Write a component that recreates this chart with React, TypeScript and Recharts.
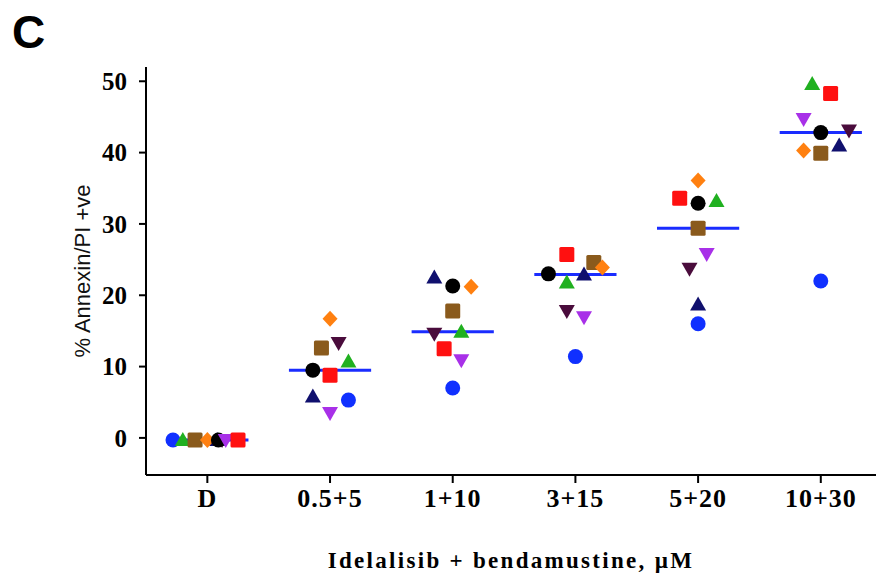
import { ReferenceLine, Scatter, ScatterChart, XAxis, YAxis } from "recharts";

const groups = ["D", "0.5+5", "1+10", "3+15", "5+20", "10+30"];
const yTicks = [0, 10, 20, 30, 40, 50];
// median line for each group
const medians = [-0.3, 9.5, 14.9, 22.9, 29.4, 42.8];

// one array per donor, values in group order; dx = horizontal jitter within a group
const blueCircle = [-0.3, 5.3, 7.0, 11.4, 16.0, 22.0];
const blueCircleDx = [-0.28, 0.15, 0, 0, 0, 0];
const blackCircle = [-0.3, 9.5, 21.3, 23.0, 32.9, 42.8];
const blackCircleDx = [0.09, -0.14, 0, -0.22, 0, 0];
const redSquare = [-0.3, 8.8, 12.5, 25.7, 33.6, 48.3];
const redSquareDx = [0.25, 0, -0.07, -0.07, -0.15, 0.08];
const brownSquare = [-0.3, 12.6, 17.8, 24.6, 29.4, 39.9];
const brownSquareDx = [-0.1, -0.07, 0, 0.15, 0, 0];
const orangeDiamond = [-0.3, 16.7, 21.2, 23.9, 36.1, 40.3];
const orangeDiamondDx = [0, 0, 0.15, 0.22, 0, -0.14];
const greenTriangle = [-0.3, 10.7, 14.9, 21.8, 33.2, 49.6];
const greenTriangleDx = [-0.2, 0.15, 0.07, -0.07, 0.15, -0.07];
const navyTriangle = [-0.3, 5.8, 22.5, 22.9, 18.7, 41.0];
const navyTriangleDx = [0.08, -0.14, -0.15, 0.07, 0, 0.15];
const maroonDown = [-0.3, 13.3, 14.6, 17.8, 23.7, 43.1];
const maroonDownDx = [0.12, 0.07, -0.15, -0.07, -0.07, 0.23];
const purpleDown = [-0.3, 3.5, 10.9, 16.9, 25.8, 44.7];
const purpleDownDx = [0.15, 0, 0.07, 0.07, 0.07, -0.14];

type Kind = "circle" | "square" | "diamond" | "up" | "down";

const series: { name: string; kind: Kind; color: string; values: number[]; dx: number[] }[] = [
  { name: "navy", kind: "up", color: "#10106e", values: navyTriangle, dx: navyTriangleDx },
  { name: "maroon", kind: "down", color: "#4a0c3c", values: maroonDown, dx: maroonDownDx },
  { name: "blue", kind: "circle", color: "#1030ff", values: blueCircle, dx: blueCircleDx },
  { name: "green", kind: "up", color: "#20b020", values: greenTriangle, dx: greenTriangleDx },
  { name: "brown", kind: "square", color: "#8a5a1c", values: brownSquare, dx: brownSquareDx },
  { name: "orange", kind: "diamond", color: "#ff8010", values: orangeDiamond, dx: orangeDiamondDx },
  { name: "black", kind: "circle", color: "#000000", values: blackCircle, dx: blackCircleDx },
  { name: "purple", kind: "down", color: "#a830e8", values: purpleDown, dx: purpleDownDx },
  { name: "red", kind: "square", color: "#ff1010", values: redSquare, dx: redSquareDx }
];

const toPoints = (values: number[], dx: number[]) =>
  values.map((v, i) => ({ x: i + dx[i], y: v }));

const marker = (kind: Kind, color: string) => (props: any) => {
  const { cx, cy } = props;
  if (cx == null || cy == null) return <g />;
  switch (kind) {
    case "circle":
      return <circle cx={cx} cy={cy} r={7.5} fill={color} />;
    case "square":
      return <rect x={cx - 7.5} y={cy - 7.5} width={15} height={15} rx={1.5} fill={color} />;
    case "diamond":
      return (
        <polygon
          points={`${cx},${cy - 8} ${cx + 7.5},${cy} ${cx},${cy + 8} ${cx - 7.5},${cy}`}
          fill={color}
        />
      );
    case "up":
      return (
        <polygon
          points={`${cx},${cy - 8} ${cx + 8},${cy + 6} ${cx - 8},${cy + 6}`}
          fill={color}
        />
      );
    default:
      return (
        <polygon
          points={`${cx - 8},${cy - 6} ${cx + 8},${cy - 6} ${cx},${cy + 8}`}
          fill={color}
        />
      );
  }
};

const serifBold = {
  fontFamily: "'Liberation Serif', 'Times New Roman', serif",
  fontWeight: 700,
  fill: "#000"
};

export default function App() {
  return (
    <div style={{ position: "absolute", left: 0, top: 0, width: 876, height: 581, background: "#fff" }}>
      <div
        style={{
          position: "absolute",
          left: 12,
          top: 9,
          fontFamily: "'Liberation Sans', Arial, sans-serif",
          fontWeight: 700,
          fontSize: 46,
          lineHeight: 1
        }}
      >
        C
      </div>
      <ScatterChart width={876} height={581} margin={{ top: 67, right: 0, bottom: 0, left: 0 }}>
        <XAxis
          type="number"
          dataKey="x"
          domain={[-0.5, 5.45]}
          ticks={[0, 1, 2, 3, 4, 5]}
          interval={0}
          allowDataOverflow
          tickFormatter={(v: number) => groups[v] ?? ""}
          height={106}
          stroke="#000"
          strokeWidth={2}
          tickSize={8}
          tickMargin={6}
          tick={{ ...serifBold, fontSize: 26, letterSpacing: 1 }}
          label={{
            value: "Idelalisib + bendamustine, µM",
            position: "insideBottom",
            offset: 13,
            style: { ...serifBold, fontSize: 23, letterSpacing: 2.3 }
          }}
        />
        <YAxis
          type="number"
          dataKey="y"
          domain={[-5.2, 52]}
          ticks={yTicks}
          interval={0}
          allowDataOverflow
          width={146}
          stroke="#000"
          strokeWidth={2}
          tickSize={7}
          tickMargin={12}
          tick={{ ...serifBold, fontSize: 25 }}
          label={{
            value: "% Annexin/PI +ve",
            angle: -90,
            position: "center",
            dx: 9,
            style: {
              fontFamily: "'Liberation Sans', Arial, sans-serif",
              fontSize: 22,
              fill: "#111"
            }
          }}
        />
        {series.map((s) => (
          <Scatter
            key={s.name}
            name={s.name}
            data={toPoints(s.values, s.dx)}
            shape={marker(s.kind, s.color)}
            isAnimationActive={false}
          />
        ))}
        {medians.map((m, i) => (
          <ReferenceLine
            key={groups[i]}
            segment={[
              { x: i - 0.335, y: m },
              { x: i + 0.335, y: m }
            ]}
            stroke="#1a2cff"
            strokeWidth={3}
          />
        ))}
      </ScatterChart>
    </div>
  );
}
